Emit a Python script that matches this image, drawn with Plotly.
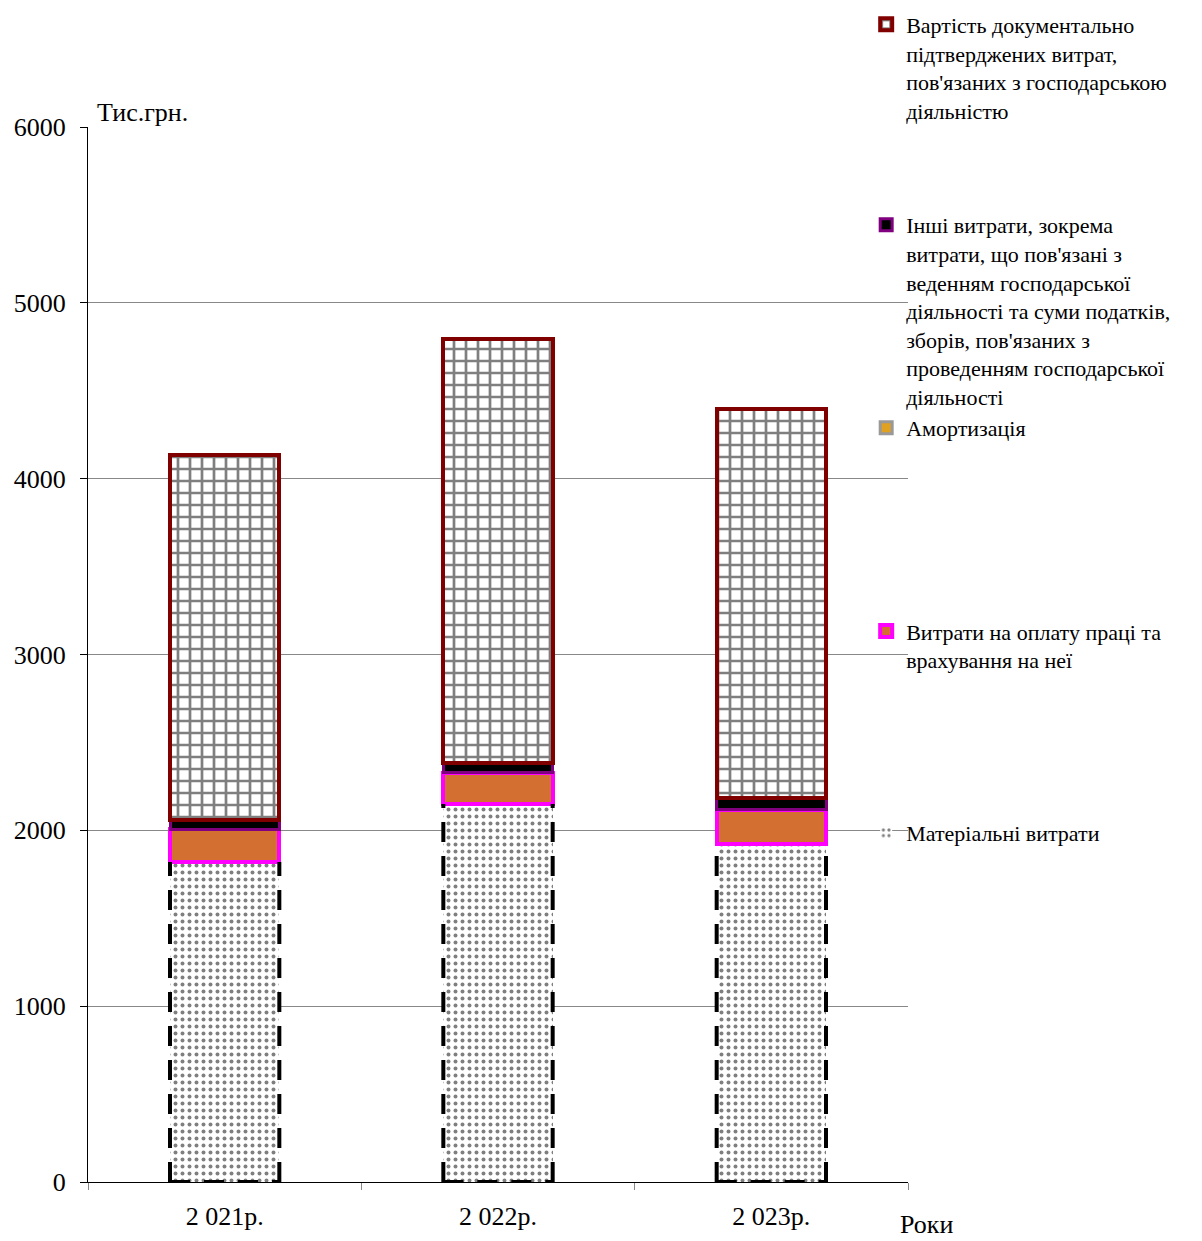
import plotly.graph_objects as go

# Expense structure by year, thousand UAH
years = ["2 021р.", "2 022р.", "2 023р."]
material = [1820, 2150, 1925]
labor = [185, 178, 192]
amortization = [0, 0, 0]
other = [55, 57, 68]
documented = [2075, 2410, 2212]

names = {
    "documented": "Вартість документально<br>підтверджених витрат,<br>пов'язаних з господарською<br>діяльністю",
    "other": "Інші витрати, зокрема<br>витрати, що пов'язані з<br>веденням господарської<br>діяльності та суми податків,<br>зборів, пов'язаних з<br>проведенням господарської<br>діяльності",
    "amortization": "Амортизація",
    "labor": "Витрати на оплату праці та<br>врахування на неї",
    "material": "Матеріальні витрати",
}

FONT = "Liberation Serif"
BAR_W = 0.4

fig = go.Figure()

fig.add_trace(go.Bar(
    x=years, y=material, name=names["material"], width=BAR_W, legend="legend5",
    marker=dict(color="white", line=dict(width=0),
                pattern=dict(shape=".", fgcolor="black", bgcolor="white", size=7, solidity=0.25)),
))
fig.add_trace(go.Bar(
    x=years, y=labor, name=names["labor"], width=BAR_W, legend="legend4",
    marker=dict(color="#D37031", line=dict(color="#FF00FF", width=4)),
))
fig.add_trace(go.Bar(
    x=years, y=amortization, name=names["amortization"], width=BAR_W, legend="legend3",
    marker=dict(color="#E0A020", line=dict(color="#999999", width=3)),
))
fig.add_trace(go.Bar(
    x=years, y=other, name=names["other"], width=BAR_W, legend="legend2",
    marker=dict(color="black", line=dict(color="#800080", width=3)),
))
fig.add_trace(go.Bar(
    x=years, y=documented, name=names["documented"], width=BAR_W, legend="legend",
    marker=dict(color="white", line=dict(color="#800000", width=4),
                pattern=dict(shape="+", fgcolor="black", bgcolor="white", size=12, solidity=0.4)),
))

# Dashed outline of the material-cost segment (left, right and bottom edges)
shapes = []
for i, v in enumerate(material):
    x0, x1 = i - BAR_W / 2, i + BAR_W / 2
    for (a, b, c, d) in [(x0, 0, x0, v), (x1, 0, x1, v), (x0, 0, x1, 0)]:
        shapes.append(dict(type="line", xref="x", yref="y", x0=a, y0=b, x1=c, y1=d,
                           line=dict(color="black", width=4, dash="20px,14px"), layer="above"))

legend_style = dict(font=dict(family=FONT, size=22, color="black"), bgcolor="rgba(0,0,0,0)",
                    xanchor="left", yanchor="top", valign="top", itemwidth=30,
                    itemclick=False, itemdoubleclick=False)
legend_tops = {"legend": 1.117, "legend2": 0.927, "legend3": 0.7346, "legend4": 0.542, "legend5": 0.3507}

layout_legends = {k: dict(x=0.949, y=v, **legend_style) for k, v in legend_tops.items()}

fig.update_layout(
    width=1202, height=1241,
    margin=dict(l=88, r=294, t=127, b=59, autoexpand=False),
    paper_bgcolor="white", plot_bgcolor="white",
    barmode="stack", bargap=0.6,
    showlegend=True,
    font=dict(family=FONT, size=26, color="black"),
    shapes=shapes,
    xaxis=dict(
        type="category", showline=True, linecolor="black", linewidth=1,
        ticks="outside", tickson="boundaries", ticklen=7, tickcolor="#888888",
        tickfont=dict(family=FONT, size=26, color="black"), ticklabelstandoff=11,
        showgrid=False, fixedrange=True,
    ),
    yaxis=dict(
        range=[0, 6000], tickvals=[0, 1000, 2000, 3000, 4000, 5000, 6000],
        showline=True, linecolor="black", linewidth=1,
        ticks="outside", ticklen=7, tickcolor="black",
        tickfont=dict(family=FONT, size=26, color="black"), ticklabelstandoff=9,
        showgrid=True, gridcolor="#888888", gridwidth=1, zeroline=False, fixedrange=True,
    ),
    annotations=[
        dict(text="Тис.грн.", xref="paper", yref="paper", x=0.008, y=1.014,
             xanchor="left", yanchor="middle", showarrow=False,
             font=dict(family=FONT, size=26, color="black")),
        dict(text="Роки", xref="paper", yref="paper", x=1.022, y=-0.040,
             xanchor="center", yanchor="middle", showarrow=False,
             font=dict(family=FONT, size=26, color="black")),
    ],
    **layout_legends,
)

fig.write_html("out.html")
